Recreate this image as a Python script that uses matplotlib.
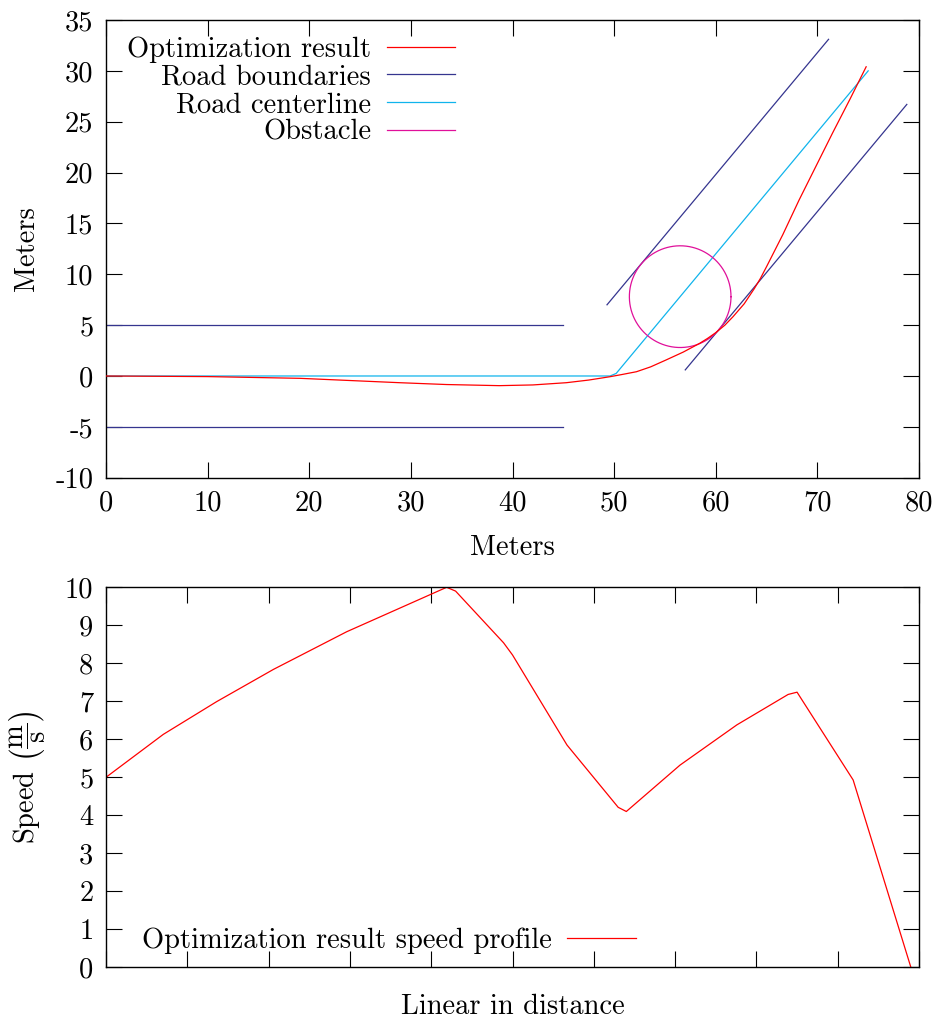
import numpy as np
import matplotlib
matplotlib.use("Agg")
import matplotlib.pyplot as plt

plt.rcParams["font.family"] = ["cmr10", "DejaVu Serif"]
plt.rcParams["mathtext.fontset"] = "cm"
plt.rcParams["axes.unicode_minus"] = False

# Optimized path (meters)
path_x = [0, 10, 19.1, 28.9, 33.5, 38.7, 42.0, 45.3, 47.5, 49.6, 50.8, 52.2, 53.6,
          55.1, 56.8, 58.4, 59.2, 60.0, 60.9, 61.7, 62.8, 63.8, 64.4, 65.0, 66.6,
          68.2, 69.9, 71.5, 73.2, 74.8]
path_y = [0, -0.06, -0.23, -0.66, -0.84, -0.95, -0.88, -0.66, -0.4, -0.07, 0.15,
          0.42, 0.9, 1.57, 2.35, 3.2, 3.7, 4.26, 5.0, 5.83, 7.1, 8.6, 9.6, 10.75,
          13.9, 17.3, 20.7, 23.9, 27.2, 30.4]

# Road boundaries, one segment per list
bound_left_upper_x = [0, 45]
bound_left_upper_y = [5, 5]
bound_left_lower_x = [0, 45]
bound_left_lower_y = [-5, -5]
bound_diag_upper_x = [49.3, 71.1]
bound_diag_upper_y = [7.0, 33.1]
bound_diag_lower_x = [57.0, 78.8]
bound_diag_lower_y = [0.6, 26.7]

# Road centerline
center_x = [0, 49.6, 50.2, 75.0]
center_y = [0, 0, 0.25, 30.0]

# Obstacle circle
obs_cx, obs_cy, obs_r = 56.5, 7.8, 5.0

# Speed profile
dist = [0, 0.0705, 0.136, 0.206, 0.296, 0.419, 0.430, 0.489, 0.500, 0.567,
        0.630, 0.640, 0.706, 0.776, 0.839, 0.850, 0.919, 0.990]
speed = [5.0, 6.13, 6.99, 7.84, 8.83, 10.0, 9.90, 8.54, 8.22, 5.85,
         4.21, 4.10, 5.32, 6.38, 7.18, 7.24, 4.93, 0.0]

red = "#ff0000"
navy = "#35358f"
cyan = "#10b4ec"
pink = "#e0109a"
fs = 20.5

fig = plt.figure(figsize=(9.43, 10.24), dpi=100)
ax1 = fig.add_axes([106 / 943, 1 - 477.7 / 1024, 813 / 943, 457.7 / 1024])
ax2 = fig.add_axes([106 / 943, 1 - 967.3 / 1024, 813 / 943, 380 / 1024])

lw = 0.9
ax1.plot(path_x, path_y, color=red, lw=lw, label="Optimization result", zorder=3)
ax1.plot(bound_left_upper_x, bound_left_upper_y, color=navy, lw=lw, label="Road boundaries")
ax1.plot(bound_left_lower_x, bound_left_lower_y, color=navy, lw=lw)
ax1.plot(bound_diag_upper_x, bound_diag_upper_y, color=navy, lw=lw)
ax1.plot(bound_diag_lower_x, bound_diag_lower_y, color=navy, lw=lw)
ax1.plot(center_x, center_y, color=cyan, lw=lw, label="Road centerline")
t = np.linspace(0, 2 * np.pi, 200)
ax1.plot(obs_cx + obs_r * np.cos(t), obs_cy + obs_r * np.sin(t), color=pink, lw=lw,
         label="Obstacle")

ax1.set_xlim(0, 80)
ax1.set_ylim(-10, 35)
ax1.set_xticks(range(0, 81, 10))
ax1.set_yticks(range(-10, 36, 5))
ax1.set_xlabel("Meters", fontsize=fs, labelpad=13)
ax1.set_ylabel("Meters", fontsize=fs, labelpad=11)
ax1.legend(loc="upper right", bbox_to_anchor=(0.4293, 0.965), frameon=False,
           markerfirst=False, fontsize=fs, handlelength=2.4, handletextpad=0.55,
           labelspacing=0.05, borderpad=0, borderaxespad=0)

ax2.plot(dist, speed, color=red, lw=lw, label="Optimization result speed profile")
ax2.set_xlim(0, 1)
ax2.set_ylim(0, 10)
ax2.set_xticks(np.arange(0, 1.01, 0.1))
ax2.set_xticklabels([])
ax2.set_yticks(range(0, 11))
ax2.set_xlabel("Linear in distance", fontsize=fs, labelpad=10)
ax2.set_ylabel(r"Speed $\left(\dfrac{\mathrm{m}}{\mathrm{s}}\right)$", fontsize=fs, labelpad=12)
ax2.legend(loc="lower left", bbox_to_anchor=(0.044, 0.035), frameon=False,
           markerfirst=False, fontsize=fs, handlelength=2.4, handletextpad=0.55,
           borderpad=0, borderaxespad=0)

for ax in (ax1, ax2):
    ax.tick_params(direction="in", length=11.5, width=0.8, top=True, right=True,
                   labelsize=fs, pad=9)
    for s in ax.spines.values():
        s.set_linewidth(1.0)

fig.savefig("out.png", dpi=100)
